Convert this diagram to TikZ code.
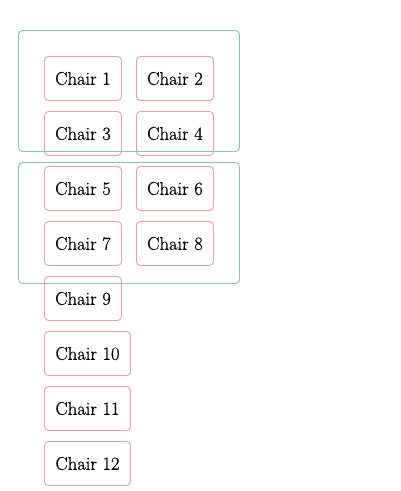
\documentclass[tikz,border=0pt]{standalone}
\usepackage{fontspec}
\newfontfamily\chairfont[FakeBold=0.6]{Latin Modern Roman}
\begin{document}
\begin{tikzpicture}[x=1pt,y=-1pt,
  grp/.style={draw=grpc, line width=0.9pt, rounded corners=4pt},
  chair/.style={draw=chairc, line width=0.9pt, rounded corners=4pt, minimum height=44pt, inner sep=0pt, font=\chairfont\fontsize{18.5}{22}\selectfont},
  cs/.style={chair, minimum width=77pt},
  cw/.style={chair, minimum width=86pt}]
\definecolor{grpc}{RGB}{140,196,168}
\definecolor{chairc}{RGB}{232,160,160}
\useasboundingbox (0,0) rectangle (400,491);
\node[grp, minimum width=221pt, minimum height=121pt, inner sep=0pt] (g1) at (129,91) {};
\node[grp, minimum width=221pt, minimum height=121pt, inner sep=0pt] (g2) at (129,223) {};
\node[cs] (c1) at (83,78.5) {Chair 1};
\node[cs] (c2) at (175,78.5) {Chair 2};
\node[cs] (c3) at (83,133.5) {Chair 3};
\node[cs] (c4) at (175,133.5) {Chair 4};
\node[cs] (c5) at (83,188.5) {Chair 5};
\node[cs] (c6) at (175,188.5) {Chair 6};
\node[cs] (c7) at (83,243.5) {Chair 7};
\node[cs] (c8) at (175,243.5) {Chair 8};
\node[cs] (c9) at (83,298.5) {Chair 9};
\node[cw] (c10) at (87.5,353.5) {Chair 10};
\node[cw] (c11) at (87.5,408.5) {Chair 11};
\node[cw] (c12) at (87.5,463.5) {Chair 12};
\end{tikzpicture}
\end{document}
